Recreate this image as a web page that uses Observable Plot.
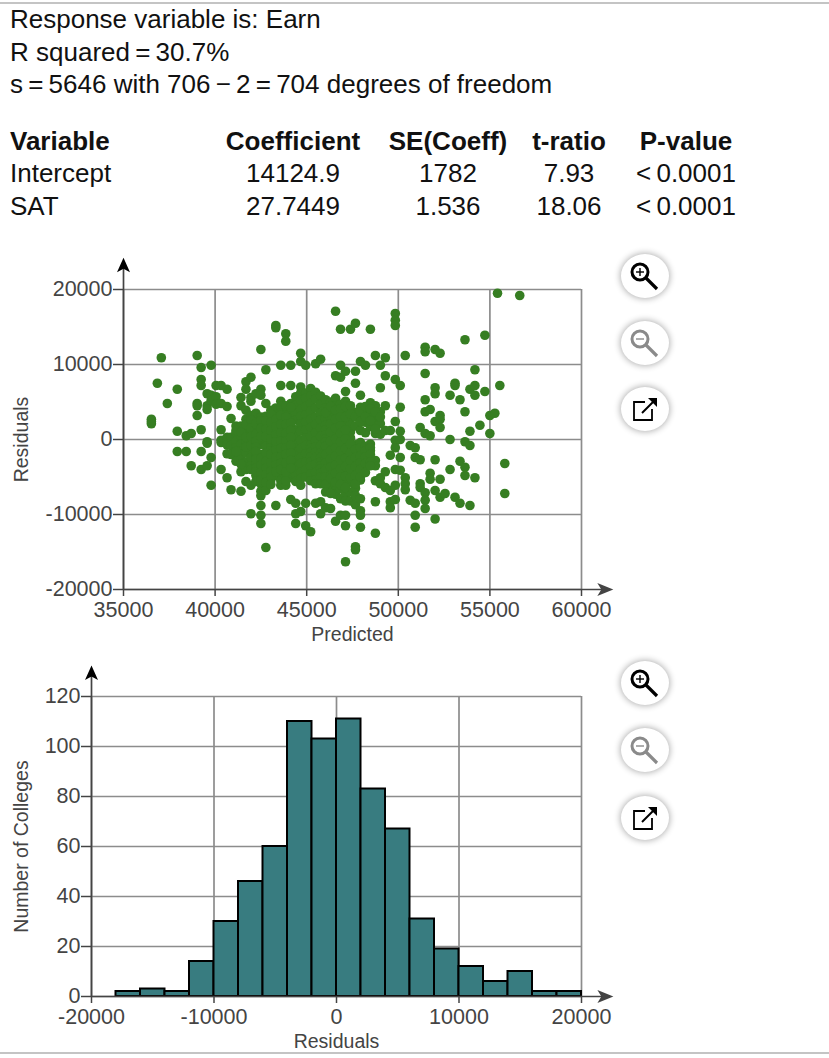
<!DOCTYPE html>
<html>
<head>
<meta charset="utf-8">
<script src="https://cdn.jsdelivr.net/npm/d3@7"></script>
<script src="https://cdn.jsdelivr.net/npm/@observablehq/plot@0.6"></script>
<style>
html,body{margin:0;padding:0;background:#fff;}
body{width:829px;height:1058px;position:relative;overflow:hidden;font-family:"Liberation Sans",Arial,sans-serif;color:#111;}
.line{position:absolute;left:10px;font-size:26px;line-height:32px;white-space:nowrap;}
.cell{position:absolute;font-size:26px;line-height:32px;white-space:nowrap;transform:translateX(-50%);}
.bold{font-weight:bold;}
.rule{position:absolute;left:0;width:829px;height:2px;background:#c4c4c4;}
.btn{position:absolute;width:48px;height:44px;border-radius:50%;background:#fff;box-shadow:0 0 6px 1px rgba(0,0,0,.3);}
.btn svg{position:absolute;left:0;top:0;}
</style>
</head>
<body>
<div id="page"></div>
<script>
const summaryLines = ["Response variable is: Earn", "R squared\u2009=\u200930.7%", "s\u2009=\u20095646 with 706\u2009\u2212\u20092\u2009=\u2009704 degrees of freedom"];
const tableHeader = ["Variable", "Coefficient", "SE(Coeff)", "t-ratio", "P-value"];
const rowIntercept = ["Intercept", "14124.9", "1782", "7.93", "<\u20090.0001"];
const rowSat = ["SAT", "27.7449", "1.536", "18.06", "<\u20090.0001"];

const predictedTicks = [35000, 40000, 45000, 50000, 55000, 60000];
const residualTicks = [-20000, -10000, 0, 10000, 20000];
const countTicks = [0, 20, 40, 60, 80, 100, 120];
const histTicks = [-20000, -10000, 0, 10000, 20000];

// Residuals, one list per predicted-value column.
const scatterColumns = [
[36522,[2700,2400,2100]],
[36848,[7500]],
[37065,[10900]],
[37392,[4800]],
[37935,[6700,1100,-1600]],
[38424,[500,-1600]],
[38696,[800,-3500]],
[39022,[11200,4800,4500,3200]],
[39239,[9600,8000,7200,1300,-1600,-4000]],
[39566,[6100,4500,4000,-300,-500,-3500]],
[39782,[9900,5900,5200,-2400,-6100]],
[40054,[7200,5700,4700]],
[40326,[7200,4800,1300,-100,-400,-4000]],
[40653,[6700,4400,300,-700,-1900,-5100]],
[40870,[2800,300,-800,-2000,-6700]],
[41141,[1800,900,-200,-1100,-2100,-2900]],
[41413,[5600,4500,1800,500,-600,-1500,-2600,-4300,-6900]],
[41684,[7700,6700,3900,2700,1200,-400,-1800,-3000,-4000,-5600]],
[41956,[8300,5600,5100,3200,2100,1000,-300,-1300,-2400,-3500,-4000,-6100,-9900]],
[42228,[6100,3500,2600,1300,300,-600,-2100,-3300,-4800,-5600]],
[42499,[12000,6700,5900,3000,2000,1000,-100,-700,-2000,-3000,-3900,-4900,-5900,-6900,-7500,-8800,-10100,-11200]],
[42771,[9300,4800,3100,2000,900,-300,-900,-2400,-3300,-4200,-5300,-6100,-6800,-14400]],
[43043,[3900,2900,1800,600,-500,-1000,-1500,-2600,-3700,-4700,-5400]],
[43315,[15200,14900,4200,3200,2200,1200,100,-800,-1900,-2900,-3900,-4800,-8800]],
[43586,[9900,7200,5100,3800,2600,1400,500,-700,-1700,-2800,-3600,-4500,-5500,-6100]],
[43858,[14100,13100,3600,2400,1500,300,-600,-1600,-2500,-3700,-4900,-6100]],
[44130,[9900,7200,4800,3800,2800,1700,800,-300,-1400,-2300,-3400,-4200,-5100,-8000]],
[44401,[5700,4600,3500,2600,1300,400,-700,-1700,-2800,-3800,-4800,-5600,-8500,-9900,-11200]],
[44673,[11500,10400,7000,6200,5200,4000,3100,2100,1100,-100,-1200,-2400,-3200,-4400,-5200,-6100,-9600]],
[44945,[9900,6200,5500,4400,3300,2300,1300,200,-800,-1900,-3000,-4000,-5000,-8500,-11500]],
[45217,[6800,5800,4800,3800,2700,1600,400,-700,-1200,-1700,-2300,-3000,-3600,-4600,-5500,-12300]],
[45488,[10100,6300,5400,4200,3000,2000,900,-200,-1000,-1700,-2400,-3300,-4400,-5400,-5900,-8500]],
[45760,[10700,5800,4700,3500,2600,1500,400,-800,-1800,-2400,-3000,-3500,-3900,-4500,-5000,-5900,-8300,-9900]],
[46032,[5300,4200,3100,2700,1900,1300,600,100,-300,-1400,-2500,-3700,-4500,-5500,-9100]],
[46303,[5000,3900,3200,2900,1600,400,-900,-2000,-3100,-4200,-5800,-6400,-9200]],
[46575,[17100,8500,5500,4500,3300,2200,700,-500,-1600,-2800,-3900,-5200,-6100,-6800,-7300,-10900]],
[46847,[14700,9900,8300,4700,3500,2400,300,-900,-2200,-3300,-4500,-5400,-6600,-7900,-10100]],
[47119,[9100,6400,5100,3700,2000,700,-600,-1900,-3000,-4200,-5600,-7400,-8200,-10100,-11500,-16300]],
[47390,[14700,3900,2900,2000,1000,200,-1300,-2300,-3400,-4500,-5700,-7000,-8200]],
[47662,[15500,9100,7500,3600,1800,-700,-1900,-2900,-4300,-5300,-6500,-7500,-8700,-14300,-14700]],
[47934,[10400,5900,4300,3100,1200,-400,-1700,-2700,-3400,-4600,-5400,-7900,-9500,-10100,-11700]],
[48205,[9900,3700,2300,900,-2000,-2700,-3800]],
[48477,[14700,4900,3300,1700,-1500,-2600]],
[48749,[11200,4500,3000,2100,800,-2800,-3500,-5500,-8300,-12500]],
[49021,[9900,6900,3700,2100,700,-5100,-5900]],
[49292,[10900,8500,4500,1200,-4300,-6400]],
[49564,[1200,-2100,-6800,-8300,-9100]],
[49836,[16800,15900,15200,8000,2400,-100,-1100,-4000,-6100,-8000]],
[50107,[7200,4300,1100,0,-2400,-4100]],
[50379,[11200,-5100,-5900,-6700]],
[50651,[-800,-8100]],
[50923,[-1100,-2400,-8500,-10100,-11700]],
[51194,[1600,-2700,-5900,-6400]],
[51466,[12300,11700,8800,5300,3700,800,-7100,-8100,-9200]],
[51738,[4000,500,-4500,-5300]],
[52009,[12000,6900,6100,2400,-2700,-6800,-10600]],
[52281,[11500,3200,2700,1600,-5300,-7700]],
[52553,[-7200]],
[52825,[5900,0,-4000]],
[53096,[7500,7200,-7700]],
[53368,[5300,-2900,-8500]],
[53640,[13300,3700,-300,-3700,-4800]],
[53911,[6700,1100,-800,-8800]],
[54183,[9300,7200,5900,-5100]],
[54455,[1900]],
[54727,[13900,6400]],
[54998,[3200,800]],
[55270,[3500]],
[55415,[19500]],
[55542,[7200]],
[55813,[-3200,-7200]],
[56629,[19200]]
];
// Further residuals read from the dense centre of the cloud.
const scatterDense = [
[41141,[1200,-1600]],
[41413,[1000,-3300]],
[41684,[2000,300,-1000]],
[41956,[2600,1500,400,-800]],
[42228,[2100,700,-200,-1000,-1600,-2600,-3800,-4300]],
[42499,[2500,1500,400,-2500,-3400,-4400,-5400]],
[42771,[2500,1400,400,-1800,-2900,-3800,-4700,-5700]],
[43043,[3400,2300,1200,100,-2000,-3100,-4200,-5000,-6000]],
[43315,[2700,1700,600,-300,-1400,-2400,-3400,-4300]],
[43586,[4400,3200,2000,900,-200,-1200,-2300,-3200,-4000]],
[43858,[4500,3000,2000,800,-200,-1100,-2000,-3100,-4300,-5500]],
[44130,[4300,2200,1200,300,-800,-1800,-2800,-3800]],
[46032,[3600,-900,-2000,-3100,-4000,-5000,-6000,-7000]],
[46303,[4400,2100,1000,-200,-1500,-2600,-3700,-4800,-5200,-7200]],
[46575,[3900,2700,1500,100,-1100,-2200,-3400,-4500,-5700]],
[46847,[4100,3000,1800,800,-300,-1500,-2700,-3900,-5000,-6000]],
[47119,[4400,3000,1300,100,-1200,-2500,-3600,-4900,-6400]],
[47390,[4500,3400,-600,-1800,-2800,-3900,-5100]],
[47662,[3000,-1300,-2400,-3600,-4800,-5900]],
[47934,[3700,2400,-1100,-2200,-3100,-4000,-5000]],
[48205,[4400,3000,-900,-1500,-2300,-3200,-4400]],
[48477,[4100,2500,-600,-1100,-2000,-3000,-3500]],
[48749,[3700,1400]],
[49021,[3000]]
];
const scatterData = [...scatterColumns, ...scatterDense].flatMap(([p, rs]) => rs.map(r => ({predicted: p, residual: r})));

const binStarts = [-18000,-16000,-14000,-12000,-10000,-8000,-6000,-4000,-2000,0,2000,4000,6000,8000,10000,12000,14000,16000,18000];
const binCounts = [2,3,2,14,30,46,60,110,103,111,83,67,31,19,12,6,10,2,2];
const binWidth = 2000;
const histData = binStarts.map((s, i) => ({x1: s, x2: s + binWidth, count: binCounts[i]}));

const colors = {dot: "#367e22", bar: "#387c80", grid: "#8c8c8c", axis: "#444444"};
const fontFamily = '"Liberation Sans", Arial, sans-serif';

const upHead = {draw(c){c.moveTo(0,-7.5);c.lineTo(6.5,7);c.lineTo(0,3.5);c.lineTo(-6.5,7);c.closePath();}};
const rightHead = {draw(c){c.moveTo(8,0);c.lineTo(-8,-6.5);c.lineTo(-4,0);c.lineTo(-8,6.5);c.closePath();}};

function chartFrame({xDomain, yDomain, xTicks, yTicks, xEnd, yEnd, xLabel, yLabel, marginTop, marginBottom, marginLeft, yTitleDx, marks, height}) {
  const [x0] = xDomain, [y0] = yDomain;
  return Plot.plot({
    width: 829, height, marginTop, marginBottom, marginLeft, marginRight: 248,
    style: {fontFamily, background: "transparent", overflow: "visible"},
    x: {domain: xDomain, label: null},
    y: {domain: yDomain, label: null},
    marks: [
      Plot.ruleX(xTicks, {stroke: colors.grid, strokeWidth: 1.7}),
      Plot.ruleY(yTicks, {stroke: colors.grid, strokeWidth: 1.7}),
      ...marks,
      Plot.ruleY([y0], {x1: x0, x2: xEnd, stroke: colors.axis, strokeWidth: 1.7}),
      Plot.ruleX([x0], {y1: y0, y2: yEnd, stroke: colors.axis, strokeWidth: 1.7}),
      Plot.dot([0], {x: () => xEnd, y: () => y0, symbol: rightHead, fill: colors.axis, stroke: "none"}),
      Plot.dot([0], {x: () => x0, y: () => yEnd, symbol: upHead, fill: "#000", stroke: "none"}),
      Plot.axisX({ticks: xTicks, tickSize: 7, tickPadding: 5, fontSize: 21.5, color: colors.axis, tickFormat: d => String(d), label: null, strokeWidth: 1.5}),
      Plot.axisY({ticks: yTicks, tickSize: 10, tickPadding: 1, fontSize: 21.5, color: colors.axis, tickFormat: d => String(d), label: null, strokeWidth: 1.5}),
      Plot.text([xLabel], {text: d => d, frameAnchor: "bottom", dy: 38, fontSize: 19.5, fill: colors.axis, lineAnchor: "top"}),
      Plot.text([yLabel], {text: d => d, frameAnchor: "left", textAnchor: "middle", dx: yTitleDx, rotate: -90, fontSize: 19.5, fill: colors.axis})
    ]
  });
}

const scatter = chartFrame({
  xDomain: [35000, 60000], yDomain: [-20000, 20000], xTicks: predictedTicks, yTicks: residualTicks,
  xEnd: 61300, yEnd: 23220, xLabel: "Predicted", yLabel: "Residuals",
  height: 400, marginTop: 39, marginBottom: 61, marginLeft: 123, yTitleDx: -102,
  marks: [Plot.dot(scatterData, {x: "predicted", y: "residual", r: 4.8, fill: colors.dot, stroke: "none"})]
});
const hist = chartFrame({
  xDomain: [-20000, 20000], yDomain: [0, 120], xTicks: histTicks, yTicks: countTicks,
  xEnd: 21950, yEnd: 129.4, xLabel: "Residuals", yLabel: "Number of Colleges",
  height: 404, marginTop: 46, marginBottom: 58, marginLeft: 91, yTitleDx: -70,
  marks: [Plot.rectY(histData, {x1: "x1", x2: "x2", y: "count", fill: colors.bar, stroke: "#000", strokeWidth: 2})]
});

const page = document.getElementById("page");
function add(html){ const t = document.createElement("template"); t.innerHTML = html.trim(); const n = t.content.firstChild; page.appendChild(n); return n; }
add('<div class="rule" style="top:2px"></div>');
add('<div class="rule" style="top:1052px"></div>');
const lineTops = [3, 36, 68];
summaryLines.forEach((s, i) => { const n = add('<div class="line"></div>'); n.textContent = s; n.style.top = lineTops[i] + "px"; });
const colCenters = [null, 293, 448, 569, 686];
[[tableHeader, 125, true], [rowIntercept, 157, false], [rowSat, 190, false]].forEach(([row, top, bold]) => {
  row.forEach((s, i) => {
    const n = add('<div class="' + (i === 0 ? "line" : "cell") + (bold ? " bold" : "") + '"></div>');
    n.textContent = s; n.style.top = top + "px";
    if (i) n.style.left = colCenters[i] + "px";
  });
});
scatter.style.cssText += ";position:absolute;left:0;top:250px;";
hist.style.cssText += ";position:absolute;left:0;top:650px;";
page.appendChild(scatter);
page.appendChild(hist);

const ns = "http://www.w3.org/2000/svg";
function button(cy, kind) {
  const d = add('<div class="btn"></div>');
  d.style.left = "621px"; d.style.top = (cy - 22) + "px";
  const col = kind === "out" ? "#8a8a8a" : "#000";
  let inner;
  if (kind === "ext") {
    inner = '<path d="M24 15 H13 V33 H31 V22" fill="none" stroke="#000" stroke-width="1.8"/><path d="M21 26 L33 14" stroke="#000" stroke-width="2"/><path d="M27 11 H36 V20 Z" fill="#000"/>';
  } else {
    inner = '<circle cx="19" cy="18" r="8" fill="none" stroke="'+col+'" stroke-width="3"/><path d="M25 24 L36 35" stroke="'+col+'" stroke-width="3.2"/><path d="M15 18 H23" stroke="'+col+'" stroke-width="1.4"/>' + (kind === "in" ? '<path d="M19 14 V22" stroke="#000" stroke-width="1.4"/>' : '');
  }
  d.innerHTML = '<svg width="48" height="44" xmlns="'+ns+'">' + inner + '</svg>';
}
[[276,"in"],[343,"out"],[409,"ext"],[683,"in"],[750,"out"],[818,"ext"]].forEach(([y,k]) => button(y,k));
</script>
</body>
</html>
